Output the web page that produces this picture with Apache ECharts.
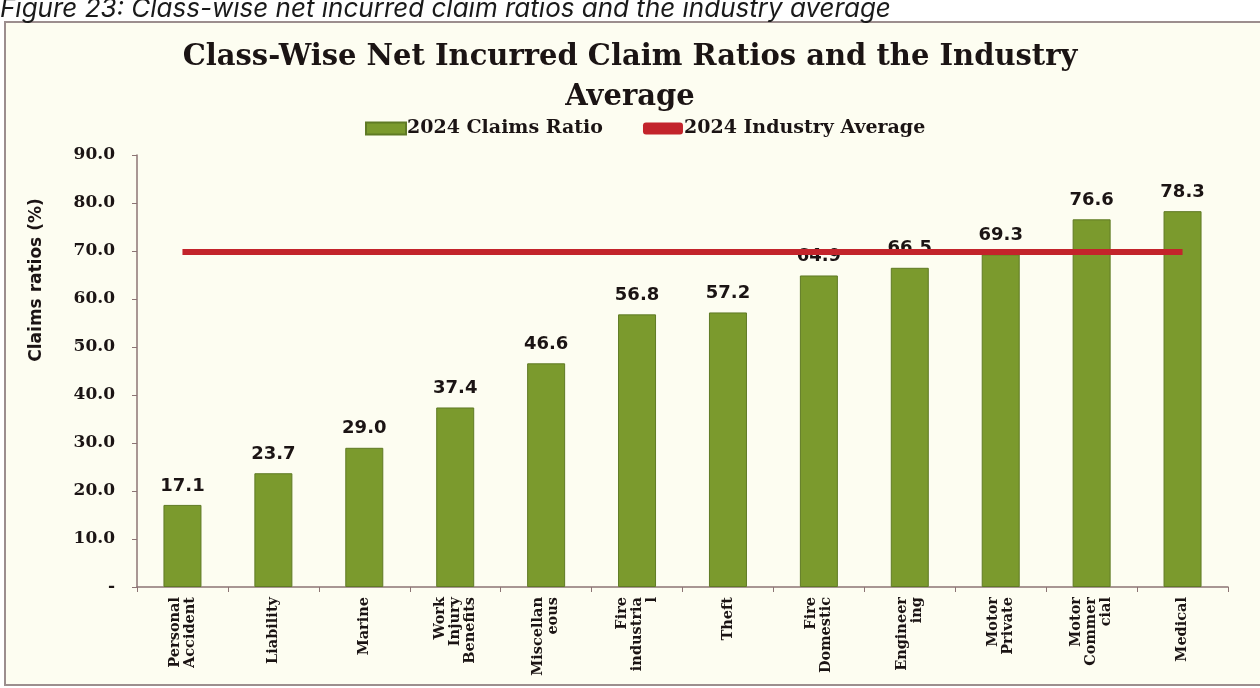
<!DOCTYPE html>
<html>
<head>
<meta charset="utf-8">
<script src="https://cdn.jsdelivr.net/npm/echarts@6/dist/echarts.min.js"></script>
<style>
  html, body { margin: 0; padding: 0; background: #ffffff; }
  #chart { width: 1260px; height: 688px; }
</style>
</head>
<body>
<div id="chart"></div>
<script>
const categories = [
  'Personal\nAccident', 'Liability', 'Marine', 'Work\nInjury\nBenefits',
  'Miscellan\neous', 'Fire\nindustria\nl', 'Theft', 'Fire\nDomestic',
  'Engineer\ning', 'Motor\nPrivate', 'Motor\nCommer\ncial', 'Medical'
]
const claimsRatio = [17.1, 23.7, 29.0, 37.4, 46.6, 56.8, 57.2, 64.9, 66.5, 69.3, 76.6, 78.3]
const industryAverage = [69.8, 69.8, 69.8, 69.8, 69.8, 69.8, 69.8, 69.8, 69.8, 69.8, 69.8, 69.8]

const serif = 'DejaVu Serif'
const dark = '#1b1414'
const axisColor = '#8c7474'

const myChart = echarts.init(document.getElementById('chart'))

const option = {
  animation: false,
  backgroundColor: 'transparent',
  graphic: [
    {
      type: 'rect',
      z: -10,
      shape: { x: 5, y: 22, width: 1262, height: 663 },
      style: { fill: '#fdfdf1', stroke: '#9c8e8e', lineWidth: 2 }
    },
    {
      type: 'text',
      left: 0,
      top: -4,
      style: {
        text: 'Figure 23: Class-wise net incurred claim ratios and the industry average',
        font: 'italic 26px Inter',
        fill: '#1a1a1a'
      }
    },
    {
      type: 'text',
      x: 37,
      y: 280,
      rotation: Math.PI / 2,
      style: {
        text: 'Claims ratios (%)',
        font: 'bold 17px "DejaVu Sans"',
        fill: dark,
        align: 'center',
        verticalAlign: 'middle'
      }
    }
  ],
  title: {
    text: 'Class-Wise Net Incurred Claim Ratios and the Industry\nAverage',
    left: 'center',
    top: 32,
    textStyle: {
      fontFamily: serif,
      fontWeight: 'bold',
      fontSize: 29,
      lineHeight: 40,
      color: dark
    }
  },
  legend: {
    top: 114,
    left: 360,
    itemGap: 40,
    itemWidth: 40,
    itemHeight: 12,
    textStyle: {
      fontFamily: serif,
      fontWeight: 'bold',
      fontSize: 19,
      color: dark,
      padding: [0, 0, 0, -4]
    },
    data: [
      { name: '2024 Claims Ratio', icon: 'rect' },
      { name: '2024 Industry Average', icon: 'roundRect', itemStyle: { color: '#c3242b' } }
    ]
  },
  grid: {
    left: 137,
    right: 32,
    top: 155,
    bottom: 101
  },
  xAxis: {
    type: 'category',
    data: categories,
    axisLine: { lineStyle: { color: axisColor, width: 1.5 } },
    axisTick: { show: true, length: 5, lineStyle: { color: axisColor } },
    axisLabel: {
      rotate: 90,
      interval: 0,
      margin: 10,
      fontFamily: serif,
      fontWeight: 'bold',
      fontSize: 14.5,
      lineHeight: 15,
      color: dark
    }
  },
  yAxis: {
    type: 'value',
    min: 0,
    max: 90,
    interval: 10,
    splitLine: { show: false },
    axisLine: { show: true, lineStyle: { color: axisColor, width: 1.5 } },
    axisTick: { show: true, length: 5, lineStyle: { color: axisColor } },
    axisLabel: {
      margin: 22,
      fontFamily: serif,
      fontWeight: 'bold',
      fontSize: 17,
      color: dark,
      formatter: v => (v === 0 ? '-' : v.toFixed(1))
    }
  },
  series: [
    {
      name: '2024 Claims Ratio',
      type: 'bar',
      barWidth: 38,
      data: claimsRatio,
      itemStyle: {
        color: '#7b9a2d',
        borderColor: '#5f7a24',
        borderWidth: 1
      },
      label: {
        show: true,
        position: 'top',
        distance: 10,
        fontFamily: 'DejaVu Sans',
        fontWeight: 'bold',
        fontSize: 18,
        color: dark,
        formatter: p => p.value.toFixed(1)
      }
    },
    {
      name: '2024 Industry Average',
      type: 'line',
      data: industryAverage,
      symbol: 'none',
      z: 3,
      lineStyle: { color: '#c3242b', width: 6 },
      itemStyle: { color: '#c3242b' }
    }
  ]
}

myChart.setOption(option)
</script>
</body>
</html>
